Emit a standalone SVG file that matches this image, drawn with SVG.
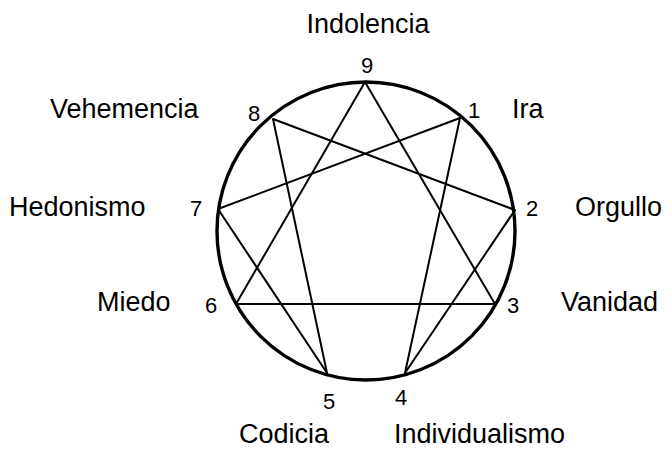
<svg xmlns="http://www.w3.org/2000/svg" width="672" height="449" viewBox="0 0 672 449">
<style>
.name{font-family:"Liberation Sans",Arial,sans-serif;font-size:27px;fill:#000}
.num{font-family:"Liberation Sans",Arial,sans-serif;font-size:22px;fill:#000;text-anchor:middle}
.ln{stroke:#000;stroke-width:2;fill:none;stroke-linejoin:round}
</style>
<rect width="672" height="449" fill="#fff"/>
<g id="circle"><circle cx="366" cy="231" r="149" fill="none" stroke="#000" stroke-width="3.4"/></g>
<g id="connectors">
<polygon class="ln" points="365,82 495,304 236,304"/>
<polygon class="ln" points="460,118 405,373 515,210 273,119 327,373 218,209"/>
</g>
<g id="n9"><text class="num" x="367" y="73">9</text><text class="name" x="368" y="33" text-anchor="middle">Indolencia</text></g>
<g id="n8"><text class="num" x="254" y="121">8</text><text class="name" x="50" y="118">Vehemencia</text></g>
<g id="n1"><text class="num" x="474" y="118">1</text><text class="name" x="512" y="118">Ira</text></g>
<g id="n7"><text class="num" x="196" y="216">7</text><text class="name" x="9" y="216">Hedonismo</text></g>
<g id="n2"><text class="num" x="532" y="216">2</text><text class="name" x="575" y="216">Orgullo</text></g>
<g id="n6"><text class="num" x="211" y="313">6</text><text class="name" x="97" y="311">Miedo</text></g>
<g id="n3"><text class="num" x="513" y="313">3</text><text class="name" x="561" y="311">Vanidad</text></g>
<g id="n5"><text class="num" x="329" y="409">5</text><text class="name" x="239" y="443">Codicia</text></g>
<g id="n4"><text class="num" x="401" y="405">4</text><text class="name" x="394" y="443">Individualismo</text></g>
</svg>
